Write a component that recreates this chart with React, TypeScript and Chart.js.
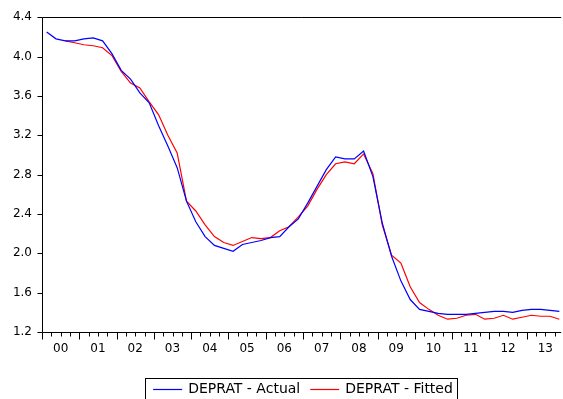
import React, { useEffect, useRef } from "react";
import { Chart, registerables } from "chart.js";

Chart.register(...registerables);

// Years on the x axis (quarterly data, 2000Q1 .. 2013Q4)
const YEAR_LABELS = ["00", "01", "02", "03", "04", "05", "06", "07", "08", "09", "10", "11", "12", "13"];
const QUARTERS_PER_YEAR = 4;
const Y_TICKS = [1.2, 1.6, 2.0, 2.4, 2.8, 3.2, 3.6, 4.0, 4.4];
const SERIES_NAMES = ["DEPRAT - Actual", "DEPRAT - Fitted"];

const ACTUAL = [
  4.25, 4.18, 4.16, 4.16, 4.18, 4.19, 4.16, 4.03,
  3.86, 3.77, 3.63, 3.53, 3.30, 3.09, 2.87, 2.53,
  2.32, 2.17, 2.08, 2.05, 2.02, 2.09, 2.11, 2.13,
  2.16, 2.17, 2.27, 2.35, 2.51, 2.68, 2.85, 2.98,
  2.96, 2.96, 3.04, 2.78, 2.31, 1.97, 1.72, 1.53,
  1.43, 1.41, 1.39, 1.38, 1.38, 1.38, 1.39, 1.40,
  1.41, 1.41, 1.40, 1.42, 1.43, 1.43, 1.42, 1.41,
];

const FITTED = [
  null, null, 4.16, 4.14, 4.12, 4.11, 4.09, 4.01,
  3.85, 3.73, 3.68, 3.54, 3.41, 3.20, 3.02, 2.53,
  2.43, 2.29, 2.17, 2.11, 2.08, 2.12, 2.16, 2.15,
  2.16, 2.23, 2.27, 2.37, 2.48, 2.65, 2.80, 2.91,
  2.93, 2.91, 3.01, 2.81, 2.29, 1.98, 1.90, 1.66,
  1.50, 1.43, 1.37, 1.33, 1.34, 1.37, 1.38, 1.33,
  1.34, 1.37, 1.33, 1.35, 1.37, 1.36, 1.36, 1.33,
];

const COLORS = ["#0000ff", "#ff0000"];
const X_MAX = 13.925; // visible part of the 14-year axis
const FONT = "DejaVu Sans";

const toPoints = (arr: (number | null)[]) =>
  arr.map((v, i) => ({ x: (i + 0.5) / QUARTERS_PER_YEAR, y: v }));

const eviewsPlugin = {
  id: "eviewsFrame",
  afterDraw(chart: any) {
    const { ctx, chartArea: ca, scales } = chart;
    const xs = scales.x;
    const ys = scales.y;
    ctx.save();
    ctx.strokeStyle = "#000";
    ctx.lineWidth = 1;
    const L = Math.round(ca.left) + 0.5;
    const B = Math.round(ca.bottom) + 0.5;
    const T = Math.round(ca.top) + 0.5;
    ctx.beginPath();
    // frame: left, bottom, top
    ctx.moveTo(L, T);
    ctx.lineTo(L, B);
    ctx.moveTo(L, B);
    ctx.lineTo(ca.right, B);
    ctx.moveTo(L, T);
    ctx.lineTo(ca.right, T);
    // y ticks
    Y_TICKS.forEach((v) => {
      const py = Math.round(ys.getPixelForValue(v)) + 0.5;
      ctx.moveTo(L - 5, py);
      ctx.lineTo(L, py);
    });
    // x ticks: quarters (minor) and years (major)
    const nq = YEAR_LABELS.length * QUARTERS_PER_YEAR;
    for (let k = 0; k <= nq; k++) {
      const v = k / QUARTERS_PER_YEAR;
      if (v > X_MAX) break;
      const px = Math.round(xs.getPixelForValue(v)) + 0.5;
      const len = k % QUARTERS_PER_YEAR === 0 ? 7 : 4;
      ctx.moveTo(px, B);
      ctx.lineTo(px, B + len);
    }
    ctx.stroke();

    // legend
    ctx.font = `14px "${FONT}"`;
    ctx.textBaseline = "middle";
    ctx.textAlign = "left";
    const ly = 389;
    const sample = 29;
    const gap = 6;
    const itemGap = 10;
    const widths = SERIES_NAMES.map((s) => ctx.measureText(s).width);
    const total = widths.reduce((a, w) => a + w + sample + gap, 0) + itemGap * (SERIES_NAMES.length - 1);
    const center = (ca.left + xs.getPixelForValue(YEAR_LABELS.length)) / 2;
    let cx = center - total / 2;
    const boxL = Math.round(cx - 8) + 0.5;
    const boxR = Math.round(cx + total + 4) + 0.5;
    ctx.strokeStyle = "#000";
    ctx.lineWidth = 1;
    ctx.strokeRect(boxL, 378.5, boxR - boxL, 40);
    SERIES_NAMES.forEach((name, i) => {
      ctx.strokeStyle = COLORS[i];
      ctx.lineWidth = 1.2;
      ctx.beginPath();
      ctx.moveTo(cx, ly + 0.5);
      ctx.lineTo(cx + sample, ly + 0.5);
      ctx.stroke();
      ctx.fillStyle = "#000";
      ctx.fillText(name, cx + sample + gap, ly);
      cx += sample + gap + widths[i] + itemGap;
    });
    ctx.restore();
  },
};

export default function App() {
  const ref = useRef<HTMLCanvasElement | null>(null);

  useEffect(() => {
    if (!ref.current) return;
    const chart = new Chart(ref.current, {
      type: "line",
      data: {
        datasets: [
          {
            label: SERIES_NAMES[0],
            data: toPoints(ACTUAL),
            borderColor: COLORS[0],
            backgroundColor: COLORS[0],
            borderWidth: 1.2,
            pointRadius: 0,
            tension: 0,
            fill: false,
          },
          {
            label: SERIES_NAMES[1],
            data: toPoints(FITTED),
            borderColor: COLORS[1],
            backgroundColor: COLORS[1],
            borderWidth: 1.2,
            pointRadius: 0,
            tension: 0,
            fill: false,
            spanGaps: false,
          },
        ],
      },
      options: {
        animation: false,
        responsive: false,
        devicePixelRatio: 1,
        events: [],
        layout: { padding: { top: 17, left: 0, right: 0, bottom: 0 } },
        plugins: {
          legend: { display: false },
          tooltip: { enabled: false },
        },
        scales: {
          x: {
            type: "linear",
            min: 0,
            max: X_MAX,
            grid: { display: false, drawTicks: false },
            border: { display: false },
            afterBuildTicks: (s: any) => {
              s.ticks = YEAR_LABELS.map((_, i) => ({ value: i + 0.5 }));
            },
            afterFit: (s: any) => {
              s.height = 67;
            },
            ticks: {
              autoSkip: false,
              maxRotation: 0,
              padding: 10,
              color: "#000",
              font: { family: FONT, size: 12 },
              callback: (v: any) => YEAR_LABELS[Math.floor(Number(v))],
            },
          },
          y: {
            min: 1.2,
            max: 4.4,
            grid: { display: false, drawTicks: false },
            border: { display: false },
            afterBuildTicks: (s: any) => {
              s.ticks = Y_TICKS.map((v) => ({ value: v }));
            },
            afterFit: (s: any) => {
              s.width = 42;
            },
            ticks: {
              padding: 10,
              color: "#000",
              font: { family: FONT, size: 12 },
              callback: (v: any) => Number(v).toFixed(1),
            },
          },
        },
      },
      plugins: [eviewsPlugin],
    });
    return () => chart.destroy();
  }, []);

  return (
    <div style={{ position: "absolute", left: 0, top: 0, width: 563, height: 399, background: "#fff" }}>
      <canvas ref={ref} width={563} height={399} style={{ display: "block" }} />
    </div>
  );
}
